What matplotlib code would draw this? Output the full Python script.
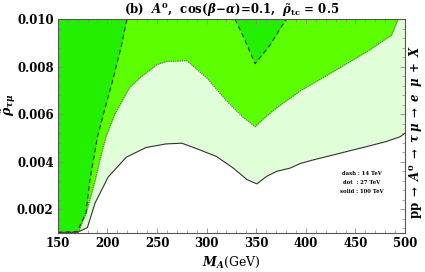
import matplotlib
matplotlib.use("Agg")
import matplotlib.pyplot as plt
from matplotlib.ticker import MultipleLocator

plt.rcParams['font.family'] = 'DejaVu Serif'
plt.rcParams['font.weight'] = 'bold'
plt.rcParams['mathtext.fontset'] = 'custom'
plt.rcParams['mathtext.rm'] = 'DejaVu Serif:bold'
plt.rcParams['mathtext.it'] = 'DejaVu Serif:italic:bold'
plt.rcParams['mathtext.bf'] = 'DejaVu Serif:bold'

ymin, ymax = 0.001, 0.010

# solid : 100 TeV
m_solid = [150, 169.5, 179.8, 187.5, 200.8, 219, 239, 259, 275, 290, 310, 327, 340.6,
           350.6, 360.7, 370.8, 384, 394, 407.7, 428, 448, 461.6, 481, 495, 500]
r_solid = [0.00103, 0.00103, 0.00123, 0.00226, 0.00336, 0.00419, 0.00460, 0.00475, 0.00478,
           0.00455, 0.00422, 0.00373, 0.00325, 0.00307, 0.00339, 0.00360, 0.00373, 0.00392,
           0.00408, 0.00429, 0.00450, 0.00464, 0.00485, 0.00505, 0.00520]

# dot : 27 TeV
m_dot = [150, 169.5, 171.5, 179, 187.7, 192, 198.5, 207.5, 222, 232.7, 249.6, 259.7, 280, 300,
         320, 337, 348.8, 357, 370.8, 394, 428, 462, 486.5, 493, 500]
r_dot = [0.00103, 0.00103, 0.00112, 0.00190, 0.00322, 0.00400, 0.00505, 0.00600, 0.00710,
         0.00753, 0.00808, 0.00822, 0.00825, 0.00753, 0.00656, 0.00586, 0.00547, 0.00580,
         0.00628, 0.00697, 0.00780, 0.00864, 0.00933, 0.00999, 0.0105]

# dash : 14 TeV (left part and V near 350)
m_dash_l = [150, 169.5, 178.3, 182.3, 190, 196, 206, 214.3, 219.5]
r_dash_l = [0.00103, 0.00107, 0.00183, 0.00322, 0.00506, 0.00600, 0.00753, 0.00891, 0.00999]
m_dash_v = [328.6, 337, 348.8, 364, 380]
r_dash_v = [0.00999, 0.00926, 0.00812, 0.00891, 0.00999]

c_light = '#e0ffd8'
c_mid = '#5cff00'
c_dark = '#22f000'

fig = plt.figure(figsize=(4.25, 2.72), dpi=100)
ax = fig.add_axes([0.136, 0.143, 0.817, 0.787])

ax.fill_between(m_solid, r_solid, ymax, color=c_light, lw=0)
ax.fill_between(m_dot, r_dot, ymax, color=c_mid, lw=0)
ax.fill_between(m_dash_l, r_dash_l, ymax, color=c_dark, lw=0)
ax.fill_between(m_dash_v, r_dash_v, ymax, color=c_dark, lw=0)

ax.plot(m_solid, r_solid, color='#333333', lw=0.8)
ax.plot(m_dot, r_dot, color='#666666', lw=0.8, ls=(0, (1, 1)))
ax.plot(m_dash_l, r_dash_l, color='#333333', lw=0.8, ls=(0, (4, 3)))
ax.plot(m_dash_v, r_dash_v, color='#333333', lw=0.8, ls=(0, (4, 3)))

ax.set_xlim(150, 500)
ax.set_ylim(ymin, ymax)
ax.xaxis.set_major_locator(MultipleLocator(50))
ax.xaxis.set_minor_locator(MultipleLocator(10))
ax.yaxis.set_major_locator(MultipleLocator(0.002))
ax.yaxis.set_minor_locator(MultipleLocator(0.0004))
ax.yaxis.set_major_formatter(plt.FormatStrFormatter('%.3f'))
ax.tick_params(which='both', direction='in', top=True, right=True, color='#888888',
               labelsize=8.5, pad=3)
ax.tick_params(which='major', length=3.5, width=0.6)
ax.tick_params(which='minor', length=2, width=0.5)
for s in ax.spines.values():
    s.set_color('#555555')
    s.set_linewidth(0.8)

ax.set_title(r'(b)  $A^0$,  cos($\beta\!-\!\alpha$)=0.1,  $\tilde{\rho}_{\rm tc}$ = 0.5',
             fontsize=8.5, fontweight='bold', pad=3)
ax.set_xlabel(r'$M_A$(GeV)', fontsize=9, labelpad=3)
ax.set_ylabel(r'$\tilde{\rho}_{\tau\mu}$', fontsize=9)
ax.yaxis.set_label_coords(-0.115, 0.6)

ax.text(1.029, 0.47,
        r'pp$\;\rightarrow\;A^0\;\rightarrow\;\tau\;\mu\;\rightarrow\;e\;\;\mu\;+\;X$',
        transform=ax.transAxes, rotation=90, ha='center', va='center', fontsize=8.5)

ax.text(0.875, 0.235, 'dash : 14 TeV\ndot  : 27 TeV\nsolid : 100 TeV',
        transform=ax.transAxes, ha='center', va='center', fontsize=3.8, linespacing=2.0)

fig.savefig('out.png', dpi=100)
